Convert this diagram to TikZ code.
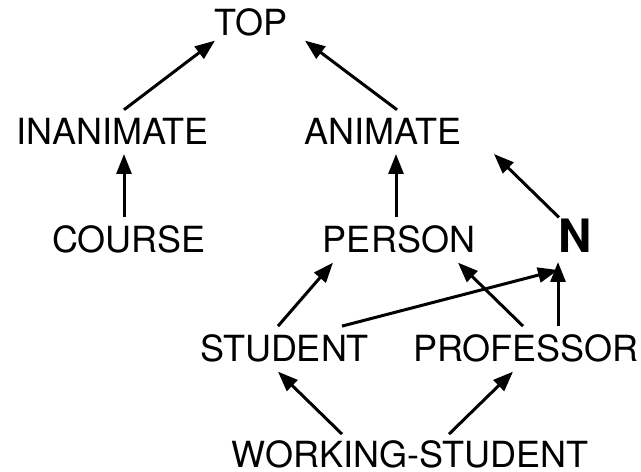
\documentclass[tikz,border=0pt]{standalone}
\usepackage{fontspec}
\setsansfont{TeX Gyre Heros}
\usetikzlibrary{arrows.meta}
\begin{document}
\begin{tikzpicture}[x=1pt,y=1pt,
          concept/.style = {anchor=base, inner sep=0pt, outer xsep=0pt, outer ysep=9pt,
            font=\sffamily\fontsize{36}{43}\selectfont},
          rootsym/.style = {concept, outer ysep=2pt, font=\sffamily\bfseries\fontsize{46}{55}\selectfont},
          isa/.style = {-{Triangle[length=20pt,width=15pt]}, line width=3pt}]
        \useasboundingbox (0,0) rectangle (641,472);
        \node [concept] (top) at (251,436) {TOP};
        \node [concept] (inanimate) at (112.5,327) {INANIMATE};
        \node [concept] (animate) at (383,327) {ANIMATE};
        \node [concept] (course) at (129,219) {COURSE};
        \node [concept] (person) at (399,219) {PERSON};
        \node [rootsym] (n) at (575,219) {N};
        \node [concept] (student) at (284.5,110) {STUDENT};
        \node [concept] (professor) at (526,110) {PROFESSOR};
        \node [concept, outer ysep=0pt] (working) at (410,4) {WORKING-STUDENT};

        \draw [isa] ([xshift=11.5pt]inanimate.north) -- ([xshift=-36pt,yshift=5pt]top.south);
        \draw [isa] ([xshift=14pt]animate.north) -- ([xshift=54pt,yshift=5pt]top.south);
        \draw [isa] ([xshift=-5pt]course.north) -- ([xshift=11.5pt]inanimate.south);
        \draw [isa] ([xshift=-3pt]person.north) -- ([xshift=13pt]animate.south);
        \draw [isa] ([xshift=-16pt]n.north) -- ([xshift=111pt]animate.south);
        \draw [isa] ([xshift=-6.5pt]student.north) -- ([xshift=-66pt]person.south);
        \draw [isa] ([xshift=57.5pt]student.north) -- ([xshift=-17pt,yshift=-15pt]n.south);
        \draw [isa] ([xshift=-3pt]professor.north) -- ([xshift=59pt]person.south);
        \draw [isa] ([xshift=32pt]professor.north) -- ([xshift=-17pt,yshift=-7pt]n.south);
        \draw [isa] ([xshift=-68pt,yshift=7pt]working.north) -- ([xshift=-6.5pt]student.south);
        \draw [isa] ([xshift=39pt,yshift=7pt]working.north) -- ([xshift=-13pt]professor.south);
\end{tikzpicture}
\end{document}
